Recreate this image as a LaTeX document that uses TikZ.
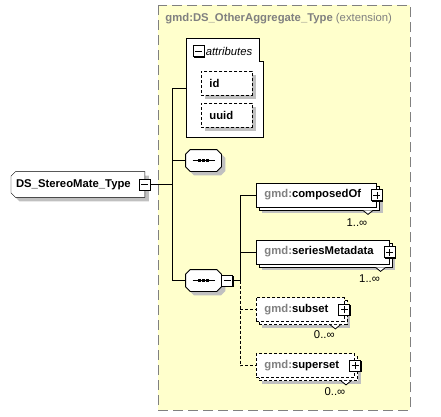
\documentclass[tikz,border=0pt]{standalone}
\usepackage{fontspec}
\setmainfont{Liberation Sans}
\usetikzlibrary{shadows,backgrounds}

\definecolor{extfill}{HTML}{FFFFCC}
\definecolor{extgray}{HTML}{808080}
\definecolor{shade}{HTML}{C0C0C0}
\newcommand{\dfont}{\fontsize{11.3}{13.5}\selectfont}
\newcommand{\gmd}{\textcolor{extgray}{gmd:}}
\newcommand{\togminus}[1]{\draw (#1.center) ++(-3.5pt,0pt) -- ++(7pt,0pt);}
\newcommand{\togplus}[1]{\togminus{#1}\draw (#1.center) ++(0pt,-3.5pt) -- ++(0pt,7pt);}
% octagon round a sequence node
\newcommand{\seqoutline}[1]{%
  \draw[chamfer] ([xshift=4.5pt]#1.north west) -- ([xshift=-4.5pt]#1.north east)
    -- ([yshift=-4.5pt]#1.north east) -- ([yshift=4.5pt]#1.south east)
    -- ([xshift=-4.5pt]#1.south east) -- ([xshift=4.5pt]#1.south west)
    -- ([yshift=4.5pt]#1.south west) -- ([yshift=-4.5pt]#1.north west) -- cycle;}
% box cut at the left corners only
\newcommand{\typeoutline}[1]{%
  \draw[chamfer] ([xshift=4.5pt]#1.north west) -- (#1.north east) -- (#1.south east)
    -- ([xshift=4.5pt]#1.south west) -- ([yshift=4.5pt]#1.south west)
    -- ([yshift=-4.5pt]#1.north west) -- cycle;}

\tikzset{
  elem/.style={draw, fill=white, anchor=west, font=\dfont\bfseries,
    inner xsep=8pt, inner ysep=0pt, minimum height=24pt,
    general shadow={fill=shade, shadow xshift=6pt, shadow yshift=-6pt},
    general shadow={draw, fill=white, shadow xshift=3pt, shadow yshift=-3pt}},
  optional/.style={dash pattern=on 3pt off 2pt},
  attrbox/.style={draw, optional, fill=white, anchor=north west, font=\dfont\bfseries,
    minimum height=24pt, inner xsep=8pt, text width=35pt,
    general shadow={fill=shade, shadow xshift=4pt, shadow yshift=-4pt}},
  tog/.style={draw, solid, fill=white, minimum size=11pt, inner sep=0pt,
    general shadow={fill=black, shadow xshift=1pt, shadow yshift=-1pt}},
  chamfer/.style={fill=white, general shadow={fill=shade, shadow xshift=4pt, shadow yshift=-4pt}},
  seqbox/.style={minimum width=35pt, minimum height=21pt, inner sep=0pt},
  mult/.style={anchor=east, font=\dfont},
}

\begin{document}
\begin{tikzpicture}[x=1pt, y=-1pt, line width=0.8pt, every node/.style={font=\dfont}]
\useasboundingbox (0,0) rectangle (441,416);

% extension area
\draw[extgray, fill=extfill, dash pattern=on 10pt off 5pt] (158,5) rectangle (410,410);
\node[anchor=west, text=extgray, inner xsep=0pt] (exttitle) at (165,19)
  {\textbf{gmd:DS\_OtherAggregate\_Type} (extension)};

% the type itself
\node[anchor=west, minimum width=133pt, minimum height=25pt, inner sep=0pt,
  font=\dfont\bfseries] (stm) at (11,184.5) {DS\_StereoMate\_Type\hspace*{9pt}};
\begin{scope}[on background layer]
  \typeoutline{stm}
\end{scope}
\node[tog] (stm-tog) at (stm.east) {};
\togminus{stm-tog}

% attributes group
\node[minimum width=77pt, minimum height=99pt, anchor=north west, inner sep=0pt] (attrs) at (186,38) {};
\draw[fill=white] (attrs.north west) -- ([xshift=-4pt]attrs.north east)
  -- ([xshift=-4pt,yshift=-23pt]attrs.north east) -- ([yshift=-23pt]attrs.north east)
  -- (attrs.south east) -- (attrs.south west) -- cycle;
\node[tog] (attrs-tog) at (198.5,51) {};
\togminus{attrs-tog}
\node[anchor=west, inner xsep=1pt, font=\dfont\itshape] (attrs-head) at (attrs-tog.east) {attributes};
\node[attrbox] (id) at (201,71) {id};
\node[attrbox] (uuid) at (201,103) {uuid};

% sequences
\node[seqbox] (seq1) at (203.5,160.5) {};
\node[seqbox] (seq2) at (203.5,280.5) {};
\foreach \s in {seq1,seq2}{
  \seqoutline{\s}
  \draw (\s.center) ++(-11pt,0pt) -- ++(22pt,0pt);
  \foreach \d in {-4,0,4}
    \fill ([xshift=\d pt]\s.center) +(-1.4pt,-1.4pt) rectangle +(1.4pt,1.4pt);
}
\node[tog, anchor=west] (seq2-tog) at (seq2.east) {};
\togminus{seq2-tog}

% elements
\node[elem] (composed) at (256,195) {\gmd composedOf\hspace*{7.5pt}};
\node[elem] (series) at (256,252) {\gmd seriesMetadata\hspace*{7.5pt}};
\node[elem, optional] (subset) at (256,309.5) {\gmd subset\hspace*{7.5pt}};
\node[elem, optional] (superset) at (256,365.5) {\gmd superset\hspace*{7.5pt}};
\foreach \e in {composed,series,subset,superset}{
  \draw[fill=white] ([xshift=-14pt,yshift=-3pt]\e.south east) -- ([xshift=-9pt,yshift=-7pt]\e.south east)
    -- ([xshift=-4pt,yshift=-3pt]\e.south east);
  \node[tog] (\e-tog) at (\e.east) {};
  \togplus{\e-tog}
}
\node[mult] (composed-mult) at ([xshift=-6pt,yshift=-15pt]composed.south east) {1..∞};
\node[mult] (series-mult) at ([xshift=-6pt,yshift=-14pt]series.south east) {1..∞};
\node[mult] (subset-mult) at ([xshift=-6pt,yshift=-13pt]subset.south east) {0..∞};
\node[mult] (superset-mult) at ([xshift=-6pt,yshift=-14pt]superset.south east) {0..∞};

% connectors
\coordinate (fork) at (172,0);
\coordinate (branch) at (240,0);
\draw (stm-tog.east) -- (stm-tog.east -| fork);
\draw (attrs.west) -| (fork |- seq2.west) -- (seq2.west);
\draw (fork |- seq1.west) -- (seq1.west);
\draw (seq2-tog.east) -- (seq2-tog.east -| branch);
\draw (composed.west) -| (branch |- seq2-tog.east);
\draw (series.west -| branch) -- (series.west);
\draw[optional] (branch |- seq2-tog.east) |- (superset.west);
\draw[optional] (subset.west -| branch) -- (subset.west);
\end{tikzpicture}
\end{document}
